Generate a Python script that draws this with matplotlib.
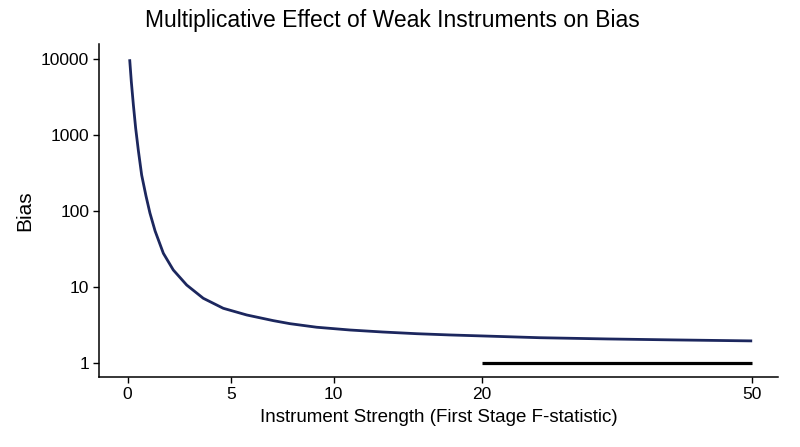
import numpy as np
import matplotlib
matplotlib.use("Agg")
import matplotlib.pyplot as plt
from matplotlib.ticker import FixedLocator, FixedFormatter, NullLocator

# values
f_stat = [0.1, 0.18, 0.28, 0.39, 0.52, 0.68, 0.89, 1.08, 1.33, 1.73,
          2.21, 2.86, 3.66, 4.63, 5.77, 7.06, 7.87, 9.17, 11.1, 13.3, 15.6,
          17.8, 20, 26.4, 33.9, 41.3, 50]
bias = [10000, 5070, 2500, 1240, 631, 300, 159, 95, 55.1, 28.0,
        16.9, 10.7, 7.17, 5.29, 4.32, 3.64, 3.32, 2.98, 2.74, 2.58, 2.45,
        2.36, 2.29, 2.17, 2.09, 2.03, 1.97]
ref_x = [20, 50]
ref_y = [1, 1]

x_breaks = [0, 5, 10, 20, 50]
y_breaks = [1, 10, 100, 1000, 10000]
y_labels = ["1", "10", "100", "1000", "10000"]

# the x axis in the reference is stretched unevenly between the breaks
brk_pos = [0, 103.3, 206.1, 354.4, 624.4]


def fwd(x):
    x = np.asarray(x, dtype=float)
    out = np.interp(x, x_breaks, brk_pos)
    lo = (brk_pos[1] - brk_pos[0]) / (x_breaks[1] - x_breaks[0])
    hi = (brk_pos[-1] - brk_pos[-2]) / (x_breaks[-1] - x_breaks[-2])
    out = np.where(x < x_breaks[0], brk_pos[0] + (x - x_breaks[0]) * lo, out)
    out = np.where(x > x_breaks[-1], brk_pos[-1] + (x - x_breaks[-1]) * hi, out)
    return out


def inv(t):
    t = np.asarray(t, dtype=float)
    out = np.interp(t, brk_pos, x_breaks)
    lo = (brk_pos[1] - brk_pos[0]) / (x_breaks[1] - x_breaks[0])
    hi = (brk_pos[-1] - brk_pos[-2]) / (x_breaks[-1] - x_breaks[-2])
    out = np.where(t < brk_pos[0], x_breaks[0] + (t - brk_pos[0]) / lo, out)
    out = np.where(t > brk_pos[-1], x_breaks[-1] + (t - brk_pos[-1]) / hi, out)
    return out


plt.rcParams['font.family'] = ['Liberation Sans', 'DejaVu Sans']

fig = plt.figure(figsize=(8, 4.47), dpi=100)
ax = fig.add_axes([0.12375, 0.1566, 0.849, 0.745])

ax.plot(f_stat, bias, color='#1c275e', lw=2.0, solid_capstyle='butt',
        solid_joinstyle='round')
ax.plot(ref_x, ref_y, color='black', lw=2.3, solid_capstyle='butt')

ax.set_xscale('function', functions=(fwd, inv))
ax.set_yscale('log')
ax.set_xlim(-1.384, 52.89)
ax.set_ylim(0.66, 15890)

ax.xaxis.set_major_locator(FixedLocator(x_breaks))
ax.xaxis.set_major_formatter(FixedFormatter([str(v) for v in x_breaks]))
ax.xaxis.set_minor_locator(NullLocator())
ax.yaxis.set_major_locator(FixedLocator(y_breaks))
ax.yaxis.set_major_formatter(FixedFormatter(y_labels))
ax.yaxis.set_minor_locator(NullLocator())

for s in ['top', 'right']:
    ax.spines[s].set_visible(False)
for s in ['left', 'bottom']:
    ax.spines[s].set_linewidth(1.1)
ax.tick_params(axis='both', length=4, width=1.0, labelsize=12.5,
               colors='black', pad=3)

ax.set_xlabel("Instrument Strength (First Stage F-statistic)", fontsize=13.5, labelpad=5)
ax.set_ylabel("Bias", fontsize=15, labelpad=5)
fig.text(0.491, 0.94, "Multiplicative Effect of Weak Instruments on Bias",
         ha='center', va='baseline', fontsize=16.5)

fig.savefig("out.png", dpi=100)
